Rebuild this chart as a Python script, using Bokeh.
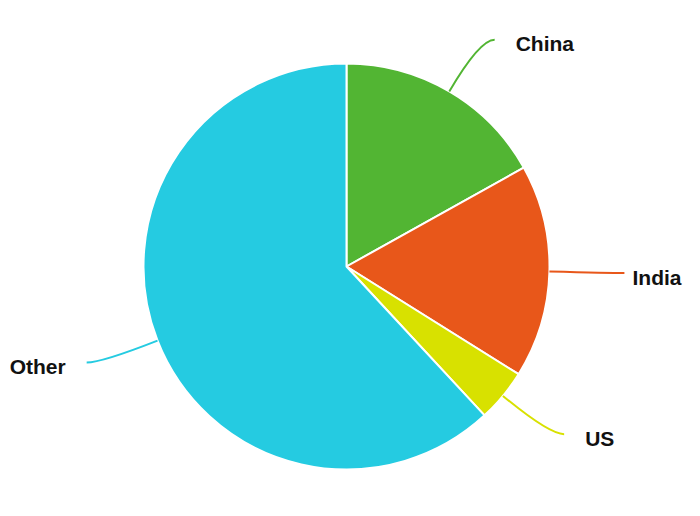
import numpy as np
from bokeh.plotting import figure
from bokeh.models import Range1d, ColumnDataSource
from bokeh.core.properties import value
from bokeh.embed import file_html
from bokeh.resources import INLINE

categories = ["China", "India", "US", "Other"]
shares = [16.9, 17.0, 4.2, 61.9]
colors = ["#52B533", "#E8571A", "#D8E100", "#25CBE1"]

W, H = 684, 500
cx, cy, R = 346, 234, 203
ext, hlen, gap = 60, 15, 21

p = figure(width=W, height=H, output_backend="svg", toolbar_location=None,
           x_range=Range1d(0, W), y_range=Range1d(0, H), min_border=0)
p.axis.visible = False
p.grid.visible = False
p.outline_line_color = None
p.background_fill_color = "white"
p.border_fill_color = "white"

frac = np.array(shares) / np.sum(shares)
cum = np.cumsum(frac)
t0 = cum - frac
t1 = cum
start_angle = np.pi / 2 - 2 * np.pi * t1
end_angle = np.pi / 2 - 2 * np.pi * t0

src = ColumnDataSource(dict(start=start_angle, end=end_angle, color=colors, cat=categories))
p.wedge(x=cx, y=cy, radius=R, start_angle="start", end_angle="end",
        fill_color="color", line_color="white", line_width=2, source=src)

mid = 2 * np.pi * (t0 + t1) / 2
sx = cx + R * np.sin(mid)
sy = cy + R * np.cos(mid)
qx = sx + ext * np.sin(mid)
qy = sy + ext * np.cos(mid)
sign = np.sign(np.sin(mid))
ex = qx + sign * hlen
ey = qy

lsrc = ColumnDataSource(dict(x0=sx, y0=sy, x1=ex, y1=ey, cx=qx, cy=qy, color=colors))
p.quadratic(x0="x0", y0="y0", x1="x1", y1="y1", cx="cx", cy="cy",
            line_color="color", line_width=2, source=lsrc)

for i, cat in enumerate(categories):
    align = "left" if sign[i] > 0 else "right"
    tx = ex[i] + sign[i] * gap
    if sign[i] > 0:
        tx = min(tx, W - 52)
    p.text(x=[tx], y=[ey[i] - 4], text=[cat],
           text_font=value("Liberation Sans"), text_font_style="bold",
           text_font_size="21px", text_color="#111111",
           text_align=align, text_baseline="middle")

open("out.html", "w").write(file_html(p, INLINE))
